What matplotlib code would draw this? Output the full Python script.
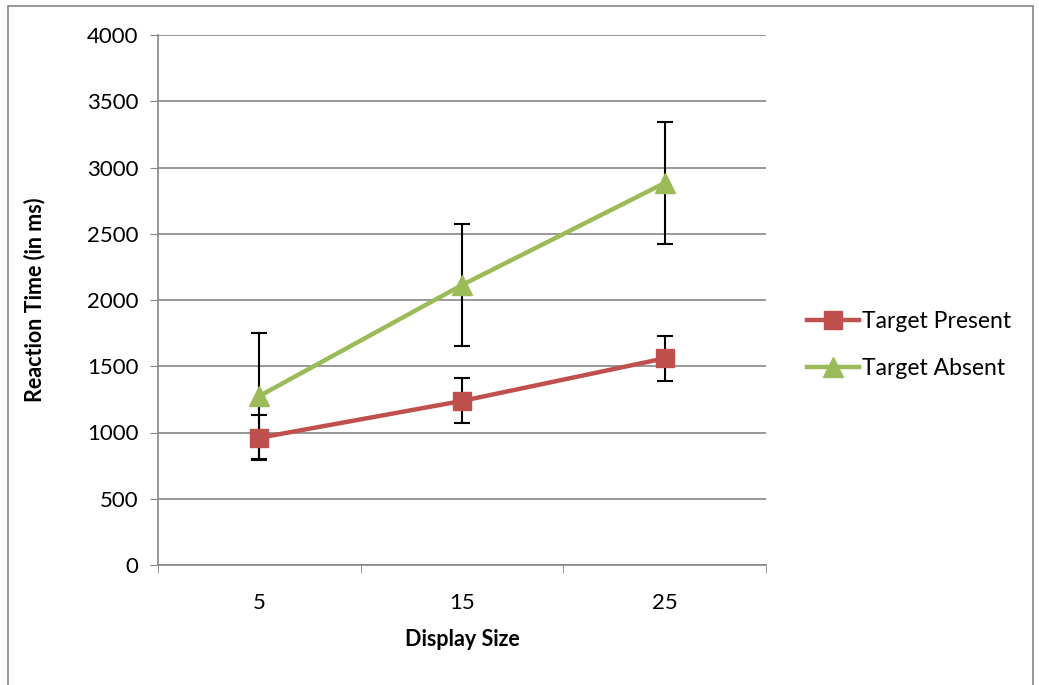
import matplotlib.pyplot as plt
from matplotlib.patches import Rectangle
plt.rcParams["font.family"] = ["Lato", "DejaVu Sans"]

# data
display_sizes = ["5", "15", "25"]
present_rt = [960, 1238, 1560]
present_err = [170, 170, 170]
absent_rt = [1275, 2113, 2883]
absent_err = [475, 460, 460]

red = "#C0504D"
green = "#9BBB59"
grey = "#868686"

fig = plt.figure(figsize=(10.39, 6.85), dpi=100)
ax = fig.add_axes([158/1039, 1-565/685, (766-158)/1039, (565-35)/685])

# outer chart border
fig.patches.append(Rectangle((8/1039, -0.1), (1033-8)/1039, 1.1-6/685,
                             transform=fig.transFigure, fill=False,
                             edgecolor=grey, lw=1.2))

x = [i + 0.5 for i in range(len(display_sizes))]

ax.errorbar(x, present_rt, yerr=present_err, fmt="none", ecolor="black",
            elinewidth=1.5, capsize=6, capthick=1.5, zorder=3)
ax.errorbar(x, absent_rt, yerr=absent_err, fmt="none", ecolor="black",
            elinewidth=1.5, capsize=6, capthick=1.5, zorder=3)
ax.plot(x, present_rt, color=red, lw=3.2, marker="s", markersize=13,
        label="Target Present", zorder=4)
ax.plot(x, absent_rt, color=green, lw=3.2, marker="^", markersize=14,
        label="Target Absent", zorder=4)

ax.set_xlim(0, 3)
ax.set_ylim(0, 4000)
ax.set_yticks(range(0, 4001, 500))
ax.set_xticks(x)
ax.set_xticklabels(display_sizes)
ax.set_xticks([0, 1, 2, 3], minor=True)
ax.tick_params(axis="x", which="major", length=0, pad=20, labelsize=16)
ax.tick_params(axis="x", which="minor", length=6, color=grey, direction="out")
ax.tick_params(axis="y", length=6, color=grey, labelsize=16, pad=8)
ax.grid(axis="y", color=grey, lw=1.2)
ax.set_axisbelow(True)
for s in ["top", "right"]:
    ax.spines[s].set_visible(False)
for s in ["left", "bottom"]:
    ax.spines[s].set_color(grey)
    ax.spines[s].set_linewidth(1.2)

ax.set_xlabel("Display Size", fontsize=15.5, fontweight="bold", labelpad=12)
ax.set_ylabel("Reaction Time (in ms)", fontsize=15.5, fontweight="bold", labelpad=30)

ax.legend(loc="center left", bbox_to_anchor=(786/1039, 1-345/685),
          bbox_transform=fig.transFigure, frameon=False,
          fontsize=16.5, handlelength=2.3, handletextpad=0.1, labelspacing=1.1)

fig.savefig("out.png", dpi=100)
